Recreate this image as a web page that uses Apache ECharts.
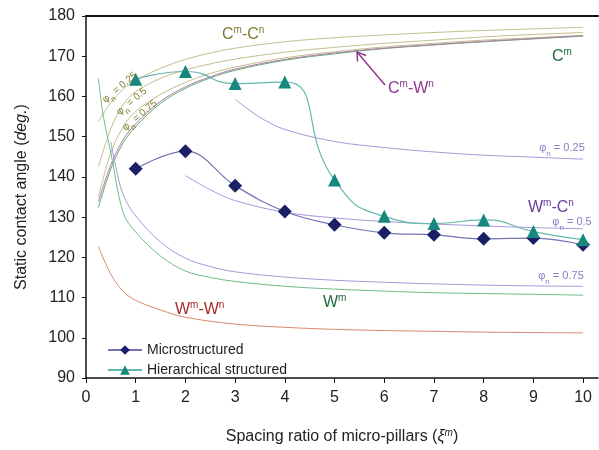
<!DOCTYPE html>
<html><head><meta charset="utf-8">
<script src="https://cdn.jsdelivr.net/npm/echarts@6/dist/echarts.min.js"></script>
<style>html,body{margin:0;padding:0;background:#fff}#c{width:599px;height:450px}</style>
</head><body><div id="c"></div>
<script>
// ---- measured data ----
const spacing = [1, 2, 3, 4, 5, 6, 7, 8, 9, 10];
const microstructured = [142.0, 146.4, 137.8, 131.4, 128.1, 126.1, 125.6, 124.6, 124.8, 123.1];
const hierarchical = [164.3, 166.2, 163.2, 163.6, 139.2, 130.2, 128.4, 129.3, 126.4, 124.4];

// theoretical curves (x samples and values)
const curveX = [0.25, 0.5, 0.75, 1, 1.5, 2, 2.5, 3, 4, 5, 6, 7, 8, 9, 10];
const CmCn_025 = [153.7, 158.5, 161.8, 164.0, 167.0, 169.2, 170.8, 172.0, 173.6, 174.6, 175.3, 175.9, 176.4, 176.8, 177.2];
const CmCn_05 = [142.5, 152.0, 158.0, 161.2, 164.5, 166.6, 168.1, 169.3, 171.0, 172.2, 173.2, 174.0, 174.8, 175.4, 175.9];
const CmCn_075 = [135.0, 146.0, 152.5, 156.3, 160.5, 163.5, 165.7, 167.3, 169.6, 171.1, 172.3, 173.2, 174.0, 174.6, 175.2];
const Cm = [132.4, 142.0, 148.5, 152.5, 158.3, 162.0, 164.6, 166.5, 169.0, 170.6, 171.9, 172.8, 173.6, 174.3, 175.0];
const CmWn = [133.8, 143.0, 149.3, 153.2, 158.8, 162.4, 164.9, 166.8, 169.2, 170.8, 172.0, 172.9, 173.7, 174.4, 175.1];

const WmCn025X = [3, 3.5, 4, 5, 6, 7, 8, 9, 10];
const WmCn_025 = [159.3, 154.8, 151.8, 148.8, 147.3, 146.2, 145.4, 144.9, 144.4];
const WmCn05X = [2, 2.5, 3, 4, 5, 6, 7, 8, 9, 10];
const WmCn_05 = [140.3, 136.8, 134.1, 131.2, 129.8, 128.9, 128.3, 127.8, 127.4, 127.1];
const WmCn075X = [0.5, 0.6, 0.75, 1, 1.5, 2, 2.5, 3, 4, 5, 6, 7, 8, 9, 10];
const WmCn_075 = [148.7, 142.5, 135.5, 130.3, 123.8, 119.8, 117.7, 116.4, 115.1, 114.3, 113.8, 113.4, 113.1, 112.9, 112.8];

const WmX = [0.25, 0.35, 0.5, 0.75, 1, 1.5, 2, 2.5, 3, 4, 5, 6, 7, 8, 9, 10];
const Wm = [164.5, 155.0, 146.0, 131.0, 126.3, 120.3, 116.6, 115.0, 114.0, 112.8, 112.1, 111.6, 111.2, 111.0, 110.8, 110.6];
const WmWnX = [0.25, 0.5, 0.75, 1, 1.5, 2, 3, 4, 5, 6, 7, 8, 9, 10];
const WmWn = [122.7, 115.8, 111.5, 109.3, 106.9, 105.1, 103.4, 102.6, 102.1, 101.8, 101.6, 101.4, 101.3, 101.2];

const xTicks = [0, 1, 2, 3, 4, 5, 6, 7, 8, 9, 10];

const zip = (xs, ys) => xs.map((x, i) => [x, ys[i]]);

const FONT = "'Liberation Sans', Arial, sans-serif";

function curve(name, xs, ys, color) {
  return {
    name, type: 'line', data: zip(xs, ys), smooth: 0.35,
    showSymbol: false, silent: true, z: 1,
    lineStyle: { color, width: 1 }
  };
}

const chart = echarts.init(document.getElementById('c'), null, { renderer: 'canvas' });

chart.setOption({
  animation: false,
  backgroundColor: '#fff',
  grid: { left: 86, right: 1, top: 16, bottom: 67 },
  xAxis: [{
    type: 'value', min: 0, max: 10.3, interval: 1,
    name: 'Spacing ratio of micro-pillars ({i|ξ}{sup|m})',
    nameLocation: 'middle', nameGap: 50,
    nameTextStyle: {
      fontSize: 16, fontFamily: FONT, color: '#222',
      rich: {
        i: { fontSize: 16, fontFamily: FONT, fontStyle: 'italic', color: '#222' },
        sup: { fontSize: 10, fontFamily: FONT, fontStyle: 'italic', color: '#222', verticalAlign: 'top', lineHeight: 18 }
      }
    },
    axisLine: { show: true, lineStyle: { color: '#111', width: 1.5 } },
    axisTick: { show: true, length: 5, customValues: xTicks, lineStyle: { color: '#111' } },
    axisLabel: { customValues: xTicks, fontSize: 16, fontFamily: FONT, color: '#222', margin: 12 },
    splitLine: { show: false }
  }, {
    type: 'value', min: 0, max: 10.3, position: 'top',
    axisLine: { show: true, lineStyle: { color: '#111', width: 2 } },
    axisTick: { show: false }, axisLabel: { show: false }, splitLine: { show: false }
  }],
  yAxis: {
    type: 'value', min: 90, max: 180, interval: 10,
    name: 'Static contact angle ({i|deg.})',
    nameLocation: 'middle', nameGap: 56,
    nameTextStyle: {
      fontSize: 16, fontFamily: FONT, color: '#222',
      rich: { i: { fontSize: 16, fontFamily: FONT, fontStyle: 'italic', color: '#222' } }
    },
    axisLine: { show: true, lineStyle: { color: '#111', width: 1.5 } },
    axisTick: { show: true, length: 4, lineStyle: { color: '#111' } },
    axisLabel: { fontSize: 16, fontFamily: FONT, color: '#222', margin: 11 },
    splitLine: { show: false }
  },
  legend: {
    data: ['Microstructured', 'Hierarchical structured'],
    orient: 'vertical', left: 102, top: 338, itemWidth: 34, itemHeight: 12, itemGap: 6,
    textStyle: { fontSize: 14, fontFamily: FONT, color: '#222' }
  },
  series: [
    curve('CmCn025', curveX, CmCn_025, '#c4bf8c'),
    curve('CmCn05', curveX, CmCn_05, '#c4bf8c'),
    curve('CmCn075', curveX, CmCn_075, '#c4bf8c'),
    curve('Cm', curveX, Cm, '#5fae72'),
    curve('CmWn', curveX, CmWn, '#b07ab0'),
    curve('WmCn025', WmCn025X, WmCn_025, '#ab96d8'),
    curve('WmCn05', WmCn05X, WmCn_05, '#ab96d8'),
    curve('WmCn075', WmCn075X, WmCn_075, '#ab96d8'),
    curve('Wm', WmX, Wm, '#72bb84'),
    curve('WmWn', WmWnX, WmWn, '#d98a6c'),
    {
      name: 'Microstructured', type: 'line', data: zip(spacing, microstructured), smooth: 0.4,
      symbol: 'diamond', symbolSize: 14, z: 5,
      itemStyle: { color: '#1b1f66' },
      lineStyle: { color: '#7474b4', width: 1.2 }
    },
    {
      name: 'Hierarchical structured', type: 'line', data: zip(spacing, hierarchical), smooth: 0.55,
      symbol: 'triangle', symbolSize: 13, z: 5,
      itemStyle: { color: '#17887e' },
      lineStyle: { color: '#66b8ae', width: 1.2 }
    }
  ]
});

// ---- annotations ----
function supText(left, y, parts, color, size) {
  const s = size || 16;
  const str = parts.map(p => p[1] ? '{s|' + p[0] + '}' : '{b|' + p[0] + '}').join('');
  return {
    type: 'text', left: left, top: y - s * 0.62, z: 10, silent: true,
    style: {
      text: str, fill: color,
      rich: {
        b: { fontSize: s, fontFamily: FONT, fill: color, lineHeight: s + 2, verticalAlign: 'bottom' },
        s: { fontSize: Math.round(s * 0.65), fontFamily: FONT, fill: color, lineHeight: s + 2, verticalAlign: 'top' }
      }
    }
  };
}
function phiText(x, y, val, color, size, rot) {
  const s = size || 11;
  return {
    type: 'text', x: x, y: y, rotation: rot || 0, z: 10, silent: true,
    style: {
      text: '{b|φ}{d|n}{b| = ' + val + '}', fill: color, align: 'center', verticalAlign: 'middle',
      rich: {
        b: { fontSize: s, fontFamily: FONT, fill: color, lineHeight: s + 4, verticalAlign: 'top' },
        d: { fontSize: Math.round(s * 0.75), fontFamily: FONT, fill: color, lineHeight: s + 4, verticalAlign: 'bottom' }
      }
    }
  };
}
const olive = '#7c7a2c', lav = '#8f78c4';
const rot = 40 * Math.PI / 180;
chart.setOption({
  graphic: [
    supText(222, 35, [['C'], ['m', 1], ['-C'], ['n', 1]], olive),
    supText(552, 57, [['C'], ['m', 1]], '#1f6b3b'),
    supText(388, 89, [['C'], ['m', 1], ['-W'], ['n', 1]], '#8e3a8e'),
    supText(528, 208, [['W'], ['m', 1], ['-C'], ['n', 1]], '#6a3d9a'),
    supText(323, 303, [['W'], ['m', 1]], '#1f6b3b'),
    supText(175, 310, [['W'], ['m', 1], ['-W'], ['n', 1]], '#a52a2a'),
    phiText(562, 150, '0.25', lav, 11),
    phiText(572, 224, '0.5', lav, 11),
    phiText(561, 278, '0.75', lav, 11),
    phiText(121, 89, '0.25', olive, 10, rot),
    phiText(133, 103, '0.5', olive, 10, rot),
    phiText(141, 117, '0.75', olive, 10, rot),
    { type: 'polyline', silent: true, z: 10, shape: { points: [[385, 85], [357, 52]] }, style: { stroke: '#8e3a8e', lineWidth: 1.5, fill: null } },
    { type: 'polyline', silent: true, z: 10, shape: { points: [[357.5, 61.5], [357, 52], [366, 55.5]] }, style: { stroke: '#8e3a8e', lineWidth: 1.5, fill: null } }
  ]
});
</script>
</body></html>
